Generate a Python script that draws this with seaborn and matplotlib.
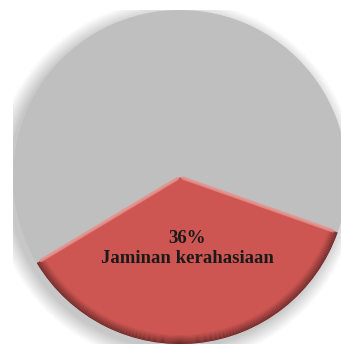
import numpy as np
import matplotlib
matplotlib.use("Agg")
import matplotlib.pyplot as plt
import seaborn as sns
from matplotlib.patches import Wedge, Circle

categories = ["Jaminan kerahasiaan", "Lainnya"]
values = [36, 64]
show_label = [True, False]
colors = ["#CD5552", "#BFBFBF"]

sns.set_theme(style="white")
plt.rcParams["font.family"] = ["Liberation Serif", "DejaVu Serif"]

W, H = 341, 349
fig = plt.figure(figsize=(W / 100, H / 100), dpi=100)
fig.patch.set_facecolor("white")
R = 167
cx, cy = 180, 172
ax = fig.add_axes([(cx - R) / W, (cy - R) / H, 2 * R / W, 2 * R / H])

# soft shadow
for i in range(14):
    ax.add_patch(Circle((-0.03, -0.03), 1.0 + i * 0.007, color="#000000",
                        alpha=0.014, lw=0, zorder=0))

wedges, texts, autotexts = ax.pie(
    values, colors=colors, startangle=211, counterclock=True,
    autopct="%1.0f%%", pctdistance=0.43,
    wedgeprops=dict(linewidth=0), textprops=dict(color="#1a1a1a"))

for w, lab, show, at in zip(wedges, categories, show_label, autotexts):
    w.set_zorder(2)
    if show:
        at.set_text(at.get_text() + "\n" + lab)
        at.set_fontsize(13.5)
        at.set_fontweight("bold")
        at.set_linespacing(1.2)
        at.set_zorder(6)
        t1, t2 = w.theta1, w.theta2
        # darker rim gradient along the arc
        n = 9
        for k in range(n):
            r_out = 1.0 - k * 0.006
            shade = 0.5 + 0.5 * k / n
            c = np.array(matplotlib.colors.to_rgb(w.get_facecolor())) * shade
            ax.add_patch(Wedge((0, 0), r_out, t1, t2, width=0.006,
                               color=c, lw=0, zorder=3))
        # light highlight along radial edges
        for th in (t1, t2):
            ang = np.deg2rad(th)
            ax.plot([0.02 * np.cos(ang), 0.97 * np.cos(ang)],
                    [0.02 * np.sin(ang), 0.97 * np.sin(ang)],
                    color="#E8908B", lw=2.5, alpha=0.8, zorder=4,
                    solid_capstyle="round")
    else:
        at.set_text("")

ax.set_xlim(-1, 1)
ax.set_ylim(-1, 1)
ax.set_aspect("equal")
ax.axis("off")

fig.savefig("out.png", dpi=100, facecolor="white")
